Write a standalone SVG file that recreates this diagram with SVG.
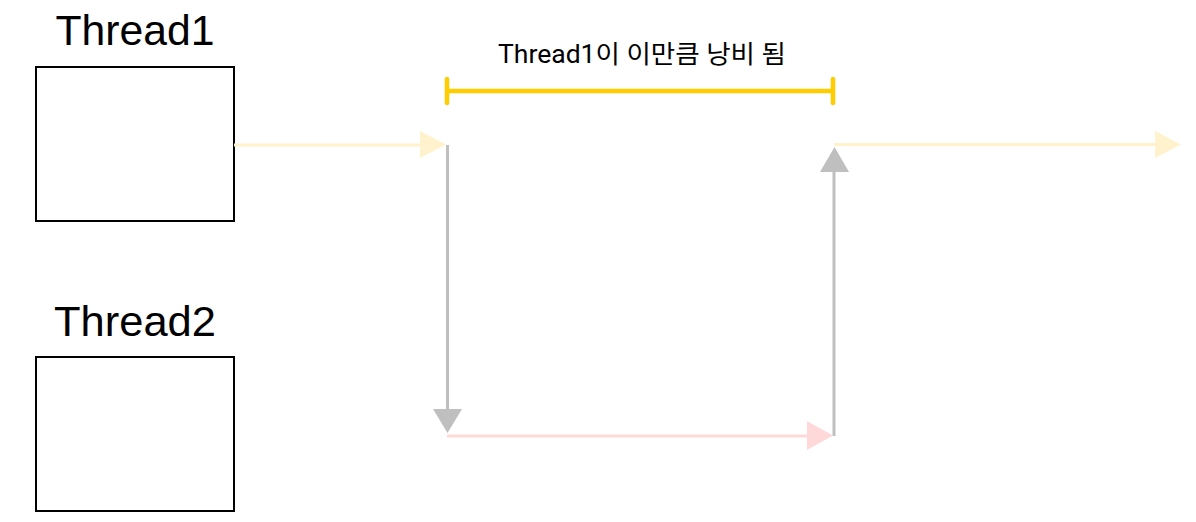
<svg xmlns="http://www.w3.org/2000/svg" width="1196" height="522" viewBox="0 0 1196 522">
<style>
.box{fill:#fff;stroke:#000;stroke-width:2}
.title{font-family:"Liberation Sans",Roboto,sans-serif;font-size:42px;fill:#000;text-anchor:middle}
.lbl{font-family:Roboto,"Noto Sans CJK KR",sans-serif;font-size:25px;fill:#000;text-anchor:middle}
.yl{stroke:#fff2cc;stroke-width:3;fill:none}
.gl{stroke:#bfbfbf;stroke-width:3;fill:none}
.pl{stroke:#ffd9d9;stroke-width:3;fill:none}
</style>
<rect width="1196" height="522" fill="#fff"/>
<g id="thread1">
<text class="title" x="135" y="45" textLength="159" lengthAdjust="spacingAndGlyphs">Thread1</text>
<rect class="box" x="36" y="67" width="198" height="154"/>
</g>
<g id="thread2">
<text class="title" x="135" y="336" textLength="162" lengthAdjust="spacingAndGlyphs">Thread2</text>
<rect class="box" x="36" y="357" width="198" height="154"/>
</g>
<g id="waste-label">
<text class="lbl" x="642" y="63" textLength="288" lengthAdjust="spacingAndGlyphs">Thread1이 이만큼 낭비 됨</text>
<path d="M447 91H833M447 79V103M833 79V103" stroke="#ffcc00" stroke-width="4.5" stroke-linecap="round" fill="none"/>
</g>
<g id="connectors">
<path class="yl" d="M234 145H422"/>
<polygon points="420,131 446,144.5 420,158" fill="#fff2cc"/>
<path class="gl" d="M447.5 145V411"/>
<polygon points="433,409 462,409 447.5,433" fill="#bfbfbf"/>
<path class="pl" d="M447 436H809"/>
<polygon points="807,421 833,435.5 807,450" fill="#ffd9d9"/>
<path class="gl" d="M834 436V170"/>
<polygon points="820,172 849,172 834.5,147" fill="#bfbfbf"/>
<path class="yl" d="M834 144.5H1157"/>
<polygon points="1155,131 1181,144.5 1155,158" fill="#fff2cc"/>
</g>
</svg>
